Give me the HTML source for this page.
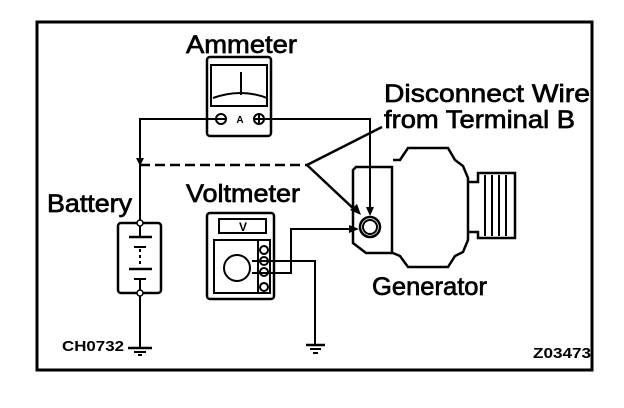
<!DOCTYPE html>
<html><head><meta charset="utf-8"><style>
html,body{margin:0;padding:0;background:#fff;}
svg{display:block;}
text{font-family:"Liberation Sans",Arial,sans-serif;fill:#000;}
.lb{stroke:#000;stroke-width:0.7px;}
</style></head><body>
<svg width="624" height="408" viewBox="0 0 624 408" xmlns="http://www.w3.org/2000/svg">
<rect x="37" y="22" width="555" height="348" fill="none" stroke="#000" stroke-width="3"/>

<!-- labels -->
<text class="lb" x="186" y="53" font-size="25" textLength="111" lengthAdjust="spacingAndGlyphs">Ammeter</text>
<text class="lb" x="384" y="102" font-size="25" textLength="206" lengthAdjust="spacingAndGlyphs">Disconnect Wire</text>
<text class="lb" x="384" y="128" font-size="25" textLength="191" lengthAdjust="spacingAndGlyphs">from Terminal B</text>
<text class="lb" x="47" y="212" font-size="25" textLength="85" lengthAdjust="spacingAndGlyphs">Battery</text>
<text class="lb" x="186" y="202" font-size="25" textLength="114" lengthAdjust="spacingAndGlyphs">Voltmeter</text>
<text class="lb" x="372" y="295" font-size="25" textLength="115" lengthAdjust="spacingAndGlyphs">Generator</text>
<text x="62" y="351" font-size="15" font-weight="bold" textLength="62" lengthAdjust="spacingAndGlyphs">CH0732</text>
<text x="533" y="358" font-size="15" font-weight="bold" textLength="58" lengthAdjust="spacingAndGlyphs">Z03473</text>
<text x="243" y="231" font-size="12" font-weight="bold" text-anchor="middle">V</text>
<text x="240" y="123" font-size="10" font-weight="bold" text-anchor="middle">A</text>

<g fill="none" stroke="#000" stroke-width="2">
<rect x="207" y="57" width="64" height="79" rx="3" stroke-width="2.5"/>
<rect x="211" y="65" width="56" height="41"/>
<line x1="241" y1="72" x2="241" y2="95"/>
<path d="M213 98 Q241 88 267 98"/>
<circle cx="221" cy="119" r="5"/>
<line x1="216" y1="119" x2="226" y2="119"/>
<circle cx="259" cy="119" r="5"/>
<line x1="254" y1="119" x2="264" y2="119"/><line x1="259" y1="114" x2="259" y2="124"/>
<polyline points="216,119 140,119 140,223"/>
<polyline points="264,119 370,119 370,210"/>
<line x1="140" y1="165" x2="307" y2="165" stroke-dasharray="10,5" stroke-width="2.5"/>
<line x1="307" y1="165" x2="382" y2="127" stroke-width="2.5"/>
<line x1="307" y1="165" x2="356" y2="211" stroke-width="2.5"/>
<rect x="118" y="223" width="43" height="70" rx="3" stroke-width="2.5"/>
<line x1="140" y1="225" x2="140" y2="237"/>
<line x1="129" y1="237" x2="152" y2="237" stroke-width="2.5"/>
<line x1="134" y1="247" x2="146" y2="247"/>
<line x1="140" y1="249" x2="140" y2="266" stroke-dasharray="3,3"/>
<line x1="129" y1="269" x2="152" y2="269" stroke-width="2.5"/>
<line x1="134" y1="279" x2="146" y2="279"/>
<line x1="140" y1="279" x2="140" y2="291"/>
<line x1="140" y1="295" x2="140" y2="348"/>
<line x1="128" y1="348" x2="152" y2="348" stroke-width="2.5"/>
<line x1="134" y1="352" x2="146" y2="352"/>
<line x1="138" y1="355" x2="142" y2="355"/>
<rect x="207" y="213" width="67" height="86" rx="3" stroke-width="2.5"/>
<rect x="219" y="219" width="47" height="14"/>
<rect x="214" y="240" width="56" height="53"/>
<line x1="258" y1="240" x2="258" y2="293"/>
<circle cx="264" cy="250" r="4"/>
<circle cx="264" cy="261" r="4"/>
<circle cx="264" cy="272" r="4"/>
<circle cx="264" cy="287" r="4"/>
<circle cx="237" cy="268" r="13"/>
<polyline points="252,261 315,261 315,345"/>
<polyline points="252,273 291,273 291,229 352,229"/>
<line x1="306" y1="345" x2="325" y2="345" stroke-width="2.5"/>
<line x1="310" y1="349" x2="321" y2="349"/>
<line x1="313" y1="353" x2="318" y2="353"/>
<path d="M356 167 L392 167 L392 253 L366 253 L353 243 L353 170 Z" stroke-width="2.5"/>
<path d="M393 160 L400 160 L408 148 L448 148 L455 160 L463 166 L468 178 L468 240 L463 252 L455 256 L448 267 L408 267 L400 256 L393 253" stroke-width="2.5"/>
<path d="M468 182 L478 182 L478 173 L515 173 L515 238 L478 238 L478 232 L468 232" stroke-width="2.5"/>
<line x1="485" y1="175" x2="485" y2="236"/>
<line x1="492" y1="175" x2="492" y2="236"/>
<line x1="499" y1="175" x2="499" y2="236"/>
<line x1="506" y1="175" x2="506" y2="236"/>
<circle cx="370" cy="227" r="10" stroke-width="2.5"/>
<circle cx="370" cy="227" r="7"/>
</g>
<g fill="#000">
<polygon points="136,158 144,158 140,166"/>
<polygon points="366,207 374,207 370,216"/>
<polygon points="350,210 357,204 361,215"/>
<polygon points="349,225 349,233 359,229"/>
</g>
<g fill="#fff" stroke="#000" stroke-width="1.5">
<circle cx="140" cy="223" r="3"/>
<circle cx="140" cy="293" r="3"/>
</g>
</svg>
</body></html>
